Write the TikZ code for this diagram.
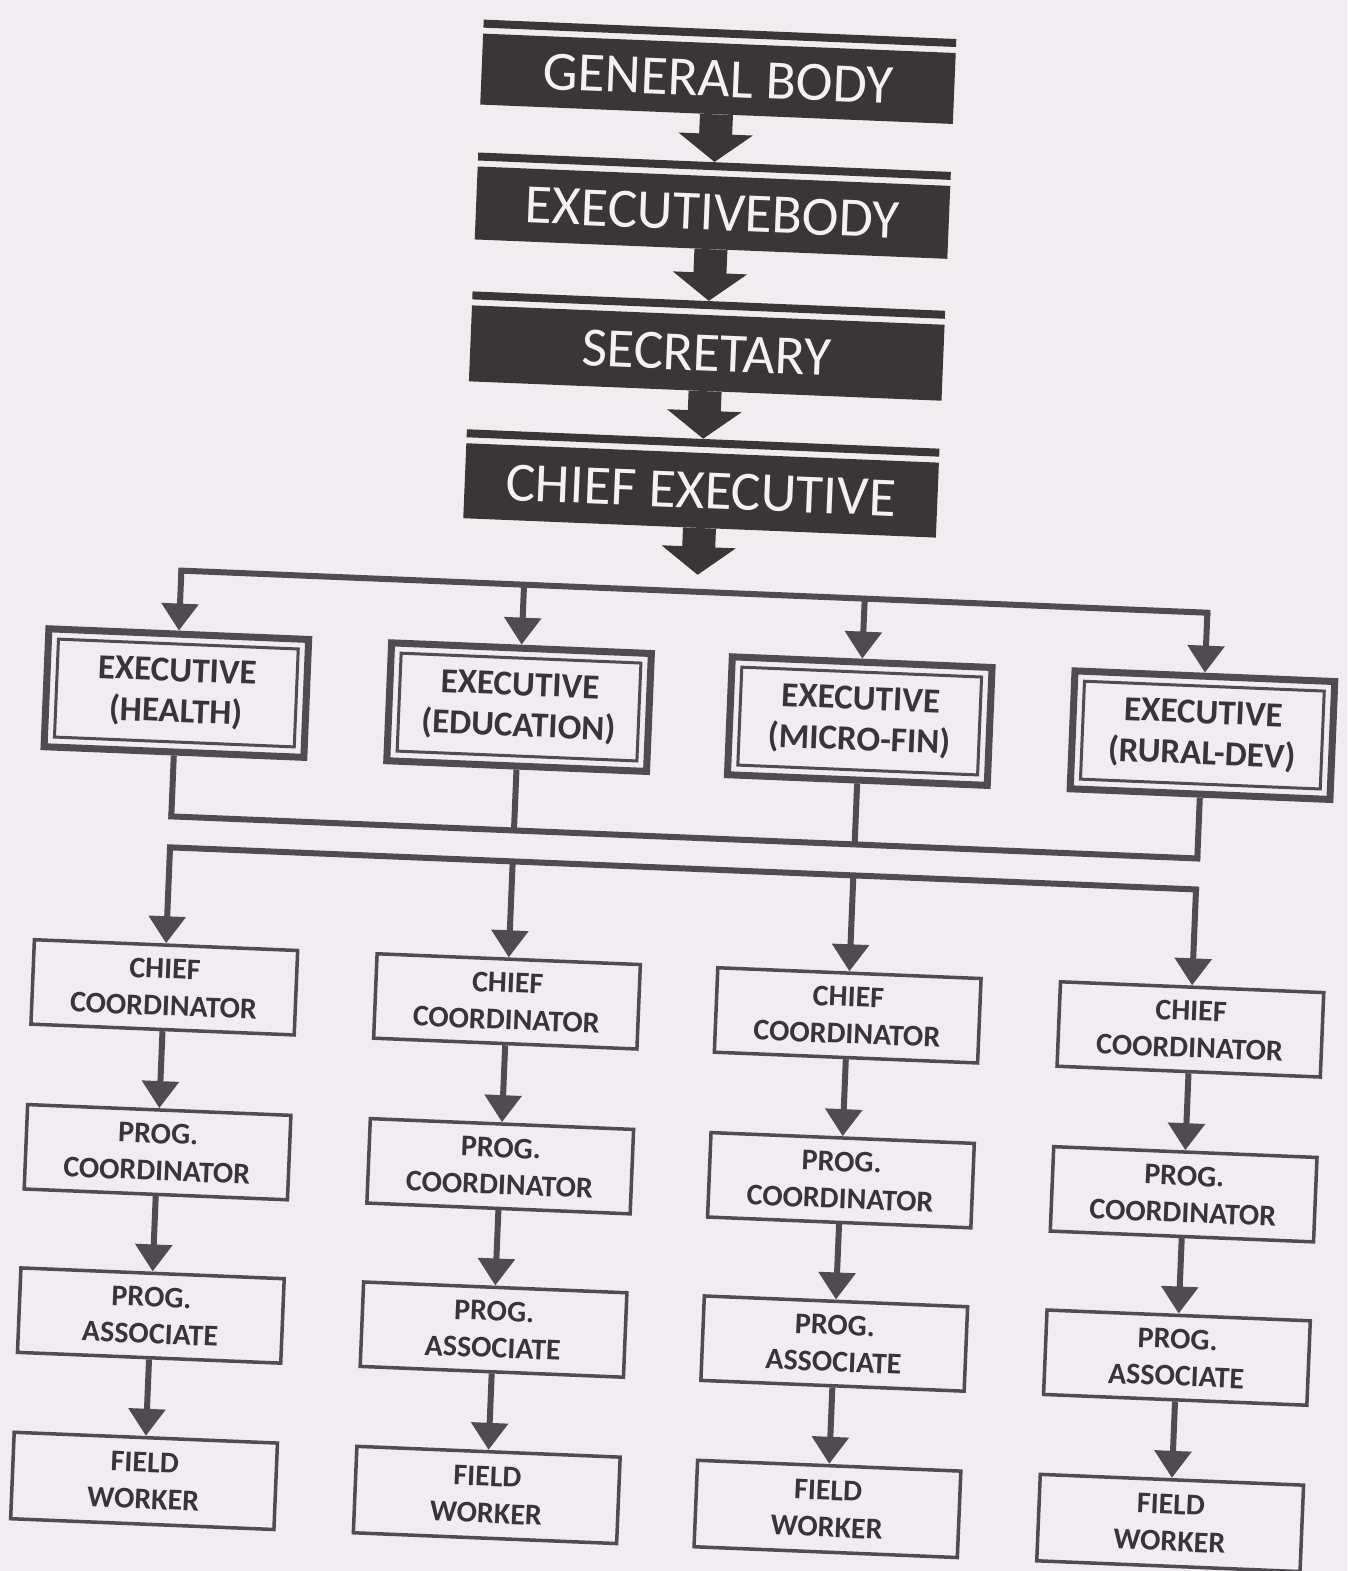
\documentclass[tikz,border=0pt]{standalone}
\usepackage{fontspec}
\setmainfont{Carlito}
\usetikzlibrary{arrows.meta}
\definecolor{paper}{RGB}{240,236,240}
\definecolor{topfill}{RGB}{58,54,55}
\definecolor{toptext}{RGB}{244,241,244}
\definecolor{linec}{RGB}{78,76,78}
\definecolor{boxtext}{RGB}{55,53,55}
\tikzset{
  topbox/.style={fill=topfill, text=toptext, minimum width=473pt, inner sep=0pt, font=\fontsize{55.5}{60}\selectfont},
  topbar/.style={fill=topfill, minimum width=473pt, minimum height=8pt, inner sep=0pt},
  bigarrow/.style={draw=topfill, line width=33pt, -{Triangle[width=73pt,length=28pt]}},
  execbox/.style={draw=linec, line width=7pt, minimum width=260pt, minimum height=118pt, inner sep=0pt, align=center, text=boxtext, font=\bfseries\fontsize{35}{41}\selectfont},
  innerframe/.style={draw=linec, line width=3pt},
  unitbox/.style={draw=linec, line width=3.5pt, minimum width=263.5pt, minimum height=84.5pt, inner sep=0pt, align=center, text=boxtext, font=\bfseries\fontsize{30}{37}\selectfont},
  conn/.style={draw=linec, line width=6pt},
  thinarrow/.style={conn, -{Triangle[width=36pt,length=27pt]}},
}
\begin{document}
\begin{tikzpicture}[x=1pt,y=-1pt]
\useasboundingbox (0,0) rectangle (1347,1571);
\fill[paper] (0,0) rectangle (1347,1571);
\clip (0,0) rectangle (1347,1571);
\begin{scope}[rotate around={-2.35:(673,785)}, transform shape]
% top chain
\node[topbar] (gbbar) at (689,32) {};
\node[topbox, minimum height=71pt] (gb) at (689,77.5) {GENERAL BODY};
\node[topbar] (ebbar) at (689,165) {};
\node[topbox, minimum height=73pt] (eb) at (689,211.5) {EXECUTIVEBODY};
\node[topbar] (secbar) at (689,304) {};
\node[topbox, minimum height=76pt] (sec) at (689,352) {SECRETARY};
\node[topbar] (cebar) at (689,442) {};
\node[topbox, minimum height=75pt] (ce) at (689,489.5) {CHIEF EXECUTIVE};
\coordinate (cetip) at (689,574);
\draw[bigarrow] (gb.south) -- (ebbar.north);
\draw[bigarrow] (eb.south) -- (secbar.north);
\draw[bigarrow] (sec.south) -- (cebar.north);
\draw[bigarrow] (ce.south) -- (cetip);
% executives
\node[execbox] (e1) at (173,713.5) {EXECUTIVE\\(HEALTH)};
\node[execbox] (e2) at (516,713.5) {EXECUTIVE\\(EDUCATION)};
\node[execbox] (e3) at (857,713.5) {EXECUTIVE\\(MICRO-FIN)};
\node[execbox] (e4) at (1200,713.5) {EXECUTIVE\\(RURAL-DEV)};
\foreach \e in {e1,e2,e3,e4}{
  \draw[innerframe] ([xshift=13.5pt,yshift=-13.5pt]\e.north west) rectangle ([xshift=-13.5pt,yshift=13.5pt]\e.south east);
}
\coordinate (bus) at (0,591);
\draw[conn, line cap=rect] (e1.north |- bus) -- (e4.north |- bus);
\foreach \e in {e1,e2,e3,e4}{
  \draw[thinarrow] (\e.north |- bus) -- (\e.north);
}
\coordinate (ub) at (0,837);
\draw[conn, line cap=rect] (e1.south |- ub) -- (e4.south |- ub);
\foreach \e in {e1,e2,e3,e4}{
  \draw[conn] (\e.south) -- (\e.south |- ub);
}
% columns
\foreach \i/\x in {1/173,2/516,3/857,4/1200}{
  \node[unitbox] (c\i) at (\x,1008) {CHIEF\\COORDINATOR};
  \node[unitbox] (p\i) at (\x,1173) {PROG.\\COORDINATOR};
  \node[unitbox] (a\i) at (\x,1336.5) {PROG.\\ASSOCIATE};
  \node[unitbox, minimum height=86.5pt] (f\i) at (\x,1502) {FIELD\\WORKER};
}
\coordinate (lb) at (0,868);
\draw[conn, line cap=rect] (c1.north |- lb) -- (c4.north |- lb);
\foreach \i in {1,2,3,4}{
  \draw[thinarrow] (c\i.north |- lb) -- (c\i.north);
  \draw[thinarrow] (c\i.south) -- (p\i.north);
  \draw[thinarrow] (p\i.south) -- (a\i.north);
  \draw[thinarrow] (a\i.south) -- (f\i.north);
}
\end{scope}
\end{tikzpicture}
\end{document}
